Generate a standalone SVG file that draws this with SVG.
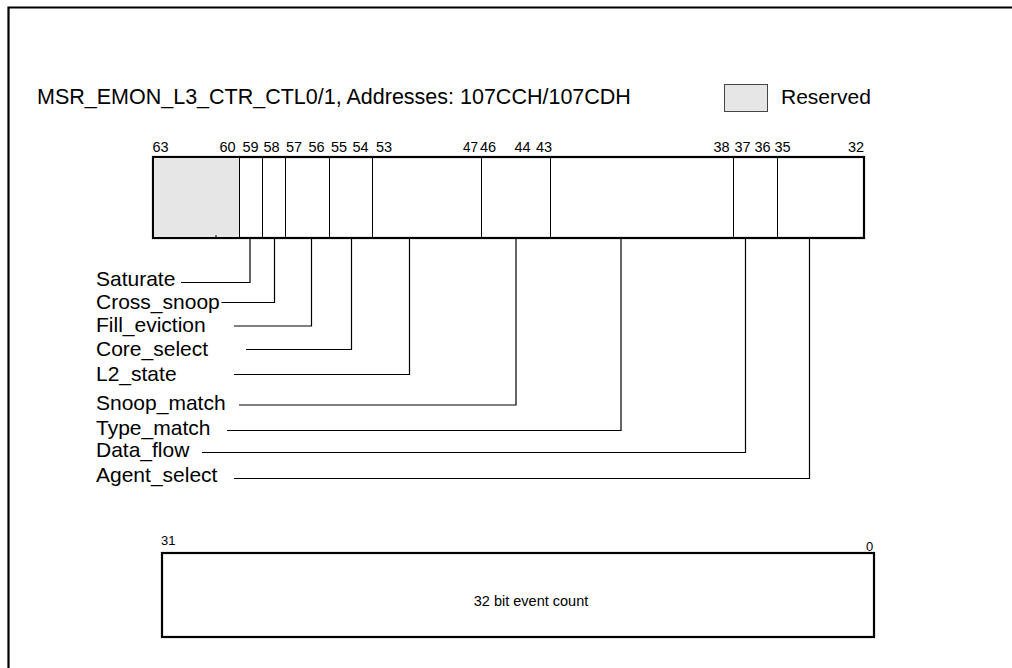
<svg xmlns="http://www.w3.org/2000/svg" width="1012" height="668" viewBox="0 0 1012 668">
<style>
text { font-family: "Liberation Sans", Arial, sans-serif; fill: #000; }
.title { font-size: 21.5px; }
.lbl { font-size: 21px; }
.bit { font-size: 14.5px; }
.bit2 { font-size: 13px; }
.cnt { font-size: 14.5px; }
.box { fill: #fff; stroke: #000; stroke-width: 2.2; }
.res { fill: #e6e6e6; stroke: none; }
.div { stroke: #000; stroke-width: 1; fill: none; }
.lead { stroke: #000; stroke-width: 1.2; fill: none; }
</style>
<rect x="0" y="0" width="1012" height="668" fill="#fff"/>
<polyline points="8.5,668 8.5,7.5 1012,7.5" fill="none" stroke="#000" stroke-width="2.2"/>

<g id="title">
<text class="title" x="37" y="104">MSR_EMON_L3_CTR_CTL0/1, Addresses: 107CCH/107CDH</text>
</g>
<g id="legend">
<rect x="724.5" y="84.5" width="43" height="27" fill="#e6e6e6" stroke="#444" stroke-width="1"/>
<text class="lbl" x="781" y="104">Reserved</text>
</g>

<g id="register-high">
<rect class="box" x="153" y="157" width="711" height="81"/>
<rect class="res" x="154.1" y="158.1" width="85" height="78.8"/>
<line class="div" x1="216" y1="235" x2="216" y2="238"/>
<line class="div" x1="239.5" y1="158" x2="239.5" y2="237"/>
<line class="div" x1="262.5" y1="158" x2="262.5" y2="237"/>
<line class="div" x1="285.5" y1="158" x2="285.5" y2="237"/>
<line class="div" x1="329.5" y1="158" x2="329.5" y2="237"/>
<line class="div" x1="372.5" y1="158" x2="372.5" y2="237"/>
<line class="div" x1="481.5" y1="158" x2="481.5" y2="237"/>
<line class="div" x1="550.5" y1="158" x2="550.5" y2="237"/>
<line class="div" x1="733.5" y1="158" x2="733.5" y2="237"/>
<line class="div" x1="777.5" y1="158" x2="777.5" y2="237"/>
</g>

<g id="bit-numbers">
<text class="bit" x="152.5" y="151.5">63</text>
<text class="bit" x="219.5" y="151.5">60</text>
<text class="bit" x="242.5" y="151.5">59</text>
<text class="bit" x="263.5" y="151.5">58</text>
<text class="bit" x="286" y="151.5">57</text>
<text class="bit" x="308.5" y="151.5">56</text>
<text class="bit" x="331" y="151.5">55</text>
<text class="bit" x="352.5" y="151.5">54</text>
<text class="bit" x="376" y="151.5">53</text>
<text class="bit" x="463" y="151.5" textLength="15" lengthAdjust="spacingAndGlyphs">47</text>
<text class="bit" x="480" y="151.5">46</text>
<text class="bit" x="514.5" y="151.5">44</text>
<text class="bit" x="536" y="151.5">43</text>
<text class="bit" x="713.5" y="151.5">38</text>
<text class="bit" x="734.5" y="151.5">37</text>
<text class="bit" x="754.5" y="151.5">36</text>
<text class="bit" x="774.5" y="151.5">35</text>
<text class="bit" x="848" y="151.5">32</text>
</g>

<g id="labels">
<text class="lbl" x="96" y="286">Saturate</text>
<text class="lbl" x="96" y="309">Cross_snoop</text>
<text class="lbl" x="96" y="332">Fill_eviction</text>
<text class="lbl" x="96" y="356">Core_select</text>
<text class="lbl" x="96" y="381">L2_state</text>
<text class="lbl" x="96" y="410">Snoop_match</text>
<text class="lbl" x="96" y="434.5">Type_match</text>
<text class="lbl" x="96" y="457">Data_flow</text>
<text class="lbl" x="96" y="481.5">Agent_select</text>
</g>

<g id="connectors">
<polyline class="lead" points="250,238 250,282.5 181,282.5"/>
<polyline class="lead" points="274.5,238 274.5,302.5 221.5,302.5"/>
<polyline class="lead" points="311.5,238 311.5,326 234,326"/>
<polyline class="lead" points="351.5,238 351.5,349.5 246,349.5"/>
<polyline class="lead" points="409.5,238 409.5,374.5 234,374.5"/>
<polyline class="lead" points="516,238 516,405 239,405"/>
<polyline class="lead" points="621,238 621,430.5 227,430.5"/>
<polyline class="lead" points="745.5,238 745.5,452.5 202,452.5"/>
<polyline class="lead" points="809.5,238 809.5,478.5 234,478.5"/>
</g>

<g id="register-low">
<rect class="box" x="162" y="553" width="712" height="84"/>
<text class="bit2" x="161" y="545">31</text>
<text class="bit2" x="866" y="551">0</text>
<text class="cnt" x="531" y="606" text-anchor="middle">32 bit event count</text>
</g>
</svg>
